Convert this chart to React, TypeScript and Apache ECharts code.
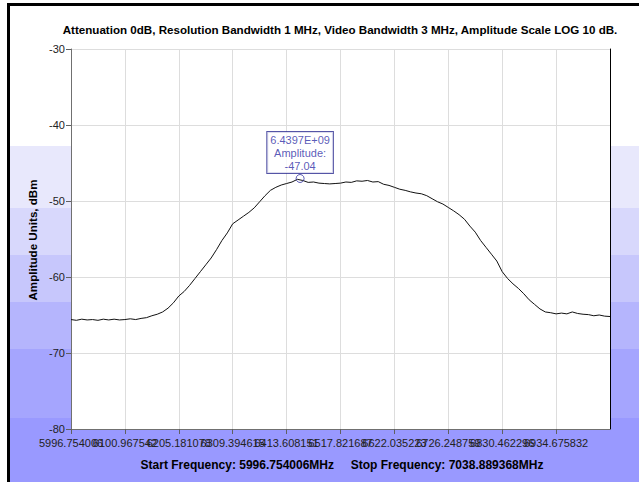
import React, { useEffect, useRef } from "react";
import * as echarts from "echarts";

const TITLE = "Attenuation 0dB, Resolution Bandwidth 1 MHz, Video Bandwidth 3 MHz, Amplitude Scale LOG 10 dB.";
const Y_NAME = "Amplitude Units, dBm";
const START_MHZ = 5996.754006;
const STOP_MHZ = 7038.889368;
const FOOTER = "Start Frequency: 5996.754006MHz     Stop Frequency: 7038.889368MHz";

const X_TICKS = [
  5996.754006, 6100.967542, 6205.181078, 6309.394615, 6413.608151,
  6517.821687, 6622.035223, 6726.248759, 6830.462296, 6934.675832,
];
const Y_MIN = -80;
const Y_MAX = -30;
const Y_STEP = 10;

// amplitude (dBm) read at 101 evenly spaced sweep points from start to stop
const AMPLITUDES = [
  -65.6, -65.7, -65.55, -65.65, -65.6, -65.7, -65.55, -65.65, -65.55, -65.65,
  -65.6, -65.5, -65.6, -65.45, -65.35, -65.1, -64.9, -64.6, -64.1, -63.4,
  -62.5, -61.9, -61.1, -60.2, -59.3, -58.4, -57.5, -56.4, -55.2, -54.2,
  -53.0, -52.5, -52.0, -51.5, -50.9, -50.1, -49.3, -48.6, -48.2, -47.9,
  -47.7, -47.5, -47.15, -47.3, -47.55, -47.5, -47.65, -47.7, -47.75, -47.7,
  -47.65, -47.5, -47.55, -47.35, -47.4, -47.3, -47.5, -47.45, -47.8, -47.95,
  -48.2, -48.45, -48.6, -48.8, -48.95, -49.05, -49.3, -49.7, -50.1, -50.4,
  -50.85, -51.3, -51.8, -52.4, -53.3, -54.1, -55.2, -56.1, -57.0, -57.9,
  -59.3, -60.2, -60.9, -61.5, -62.2, -63.0, -63.6, -64.2, -64.6, -64.7,
  -64.85, -64.75, -64.85, -64.6, -64.8, -64.9, -64.95, -65.1, -65.0, -65.15,
  -65.2,
];

const PEAK_FREQ_MHZ = 6439.7;
const PEAK_AMP = -47.04;

const BANDS = [
  { y0: 146, y1: 208, color: "#E8E8FC" },
  { y0: 208, y1: 255, color: "#D8D8FC" },
  { y0: 255, y1: 302, color: "#C7C7FC" },
  { y0: 302, y1: 349, color: "#B5B5FD" },
  { y0: 349, y1: 418, color: "#A5A5FE" },
  { y0: 418, y1: 482, color: "#9999FF" },
];

const FONT = "'Liberation Sans', Arial, sans-serif";

function sci(vHz: number): string {
  const exp = Math.floor(Math.log10(vHz));
  const mant = vHz / Math.pow(10, exp);
  return mant.toFixed(4) + "E+" + String(exp).padStart(2, "0");
}

export default function App() {
  const ref = useRef<HTMLDivElement>(null);
  useEffect(() => {
    if (!ref.current) return;
    const chart = echarts.init(ref.current, null, { renderer: "svg" });
    const n = AMPLITUDES.length;
    const step = (STOP_MHZ - START_MHZ) / (n - 1);
    const lineData = AMPLITUDES.map((a, i) => [START_MHZ + i * step, a]);
    const evenTicks = X_TICKS.filter((_, i) => i % 2 === 0);
    const oddTicks = X_TICKS.filter((_, i) => i % 2 === 1);

    const graphic: any[] = [];
    BANDS.forEach((b) => {
      graphic.push({
        type: "rect",
        silent: true,
        z: -10,
        shape: { x: 10, y: b.y0, width: 629, height: b.y1 - b.y0 },
        style: { fill: b.color },
      });
    });
    graphic.push({
      type: "rect", silent: true, z: 50,
      shape: { x: 7, y: 3, width: 632, height: 3 },
      style: { fill: "#000" },
    });
    graphic.push({
      type: "rect", silent: true, z: 50,
      shape: { x: 7, y: 3, width: 3, height: 479 },
      style: { fill: "#000" },
    });
    graphic.push({
      type: "text", x: 340, y: 29, z: 50,
      style: { text: TITLE, font: `bold 11.6px ${FONT}`, fill: "#000", align: "center", verticalAlign: "middle" },
    });
    graphic.push({
      type: "text", x: 32, y: 240, rotation: Math.PI / 2, z: 50,
      style: { text: Y_NAME, font: `bold 11.6px ${FONT}`, fill: "#000", align: "center", verticalAlign: "middle" },
    });
    graphic.push({
      type: "text", x: 342, y: 465, z: 50,
      style: { text: FOOTER, font: `bold 12px ${FONT}`, fill: "#000", align: "center", verticalAlign: "middle" },
    });

    const labelStyle = {
      showMinLabel: true,
      showMaxLabel: true,
      hideOverlap: false,
      formatter: (v: number) => v.toFixed(6),
      color: "#222", fontFamily: FONT, fontSize: 11, margin: 8,
    };

    chart.setOption({
      animation: false,
      backgroundColor: "#fff",
      graphic,
      grid: {
        left: 71, top: 49, width: 539, height: 380,
        show: true, backgroundColor: "#fff", borderWidth: 0,
      },
      xAxis: [
        {
          type: "value",
          position: "bottom",
          min: START_MHZ,
          max: STOP_MHZ,
          axisLine: { show: true, lineStyle: { color: "#707070", width: 1 } },
          axisTick: { show: true, customValues: X_TICKS, length: 5, lineStyle: { color: "#606060" } },
          axisLabel: { ...labelStyle, customValues: evenTicks },
          splitLine: { show: true, lineStyle: { color: "#DDDDDD", width: 1 } },
        },
        {
          type: "value",
          position: "bottom",
          offset: 0,
          min: START_MHZ,
          max: STOP_MHZ,
          axisLine: { show: false },
          axisTick: { show: false },
          axisLabel: { ...labelStyle, customValues: oddTicks },
          splitLine: { show: false },
        },
      ],
      yAxis: [
        {
          type: "value",
          min: Y_MIN, max: Y_MAX, interval: Y_STEP,
          axisLine: { show: true, lineStyle: { color: "#707070", width: 1 } },
          axisTick: { show: true, length: 5, lineStyle: { color: "#606060" } },
          axisLabel: { color: "#222", fontFamily: FONT, fontSize: 11, margin: 6 },
          splitLine: { show: true, lineStyle: { color: "#DDDDDD", width: 1 } },
        },
        {
          type: "value",
          position: "right",
          min: Y_MIN, max: Y_MAX, interval: Y_STEP,
          axisLine: { show: true, lineStyle: { color: "#000", width: 1 } },
          axisTick: { show: false },
          axisLabel: { show: false },
          splitLine: { show: false },
        },
      ],
      series: [
        {
          type: "line",
          data: lineData,
          showSymbol: false,
          symbol: "none",
          lineStyle: { color: "#111", width: 1 },
          z: 3,
        },
        {
          type: "scatter",
          data: [[PEAK_FREQ_MHZ, PEAK_AMP]],
          symbol: "circle",
          symbolSize: 8,
          itemStyle: { color: "rgba(255,255,255,0)", borderColor: "#2F2FA0", borderWidth: 1 },
          z: 5,
          label: {
            show: true,
            position: "top",
            distance: 1,
            formatter: () => `${sci(PEAK_FREQ_MHZ * 1e6)}\nAmplitude:\n${PEAK_AMP.toFixed(2)}`,
            color: "#2F2FA6",
            fontFamily: FONT,
            fontSize: 11,
            lineHeight: 13,
            align: "center",
            backgroundColor: "#fff",
            borderColor: "#2B2B90",
            borderWidth: 1,
            padding: [1, 3, 1, 3],
          },
        },
      ],
    });
    return () => chart.dispose();
  }, []);
  return (
    <div
      ref={ref}
      style={{ position: "absolute", left: 0, top: 0, width: 639, height: 482 }}
    />
  );
}
